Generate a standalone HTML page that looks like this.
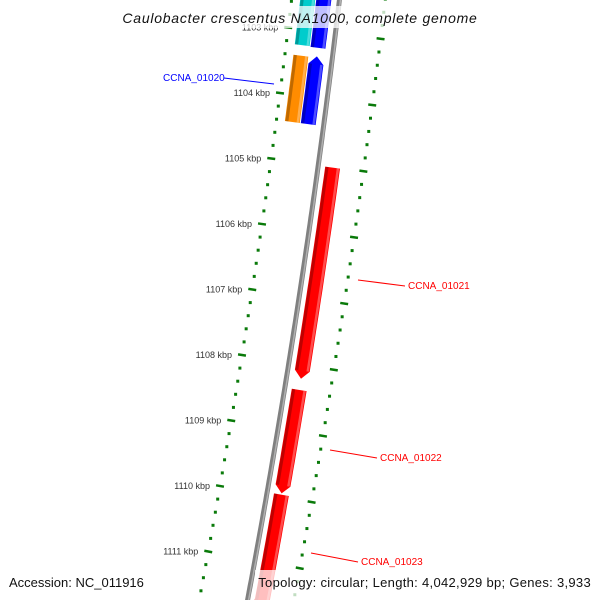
<!DOCTYPE html>
<html><head><meta charset="utf-8"><style>html,body{margin:0;background:#fff;overflow:hidden;width:600px;height:600px}svg{display:block;overflow:hidden}</style></head>
<body>
<svg id="c" width="600" height="600" viewBox="0 0 600 600" xmlns="http://www.w3.org/2000/svg" font-family="Liberation Sans, sans-serif"></svg>
<script>
const tickKbp=[1103,1104,1105,1106,1107,1108,1109,1110,1111];
const geneNames=["CCNA_01019a","CCNA_01019b","CCNA_01020o","CCNA_01020","CCNA_01021","CCNA_01022","CCNA_01023"];
const geneStart=[1102.5,1102.5,1103.40,1103.38,1105.01,1108.38,1109.97];
const geneEnd=[1103.24,1103.25,1104.41,1104.41,1108.21,1109.95,1111.75];
const geneTrack=[16,32,16,32,62,62,62];
const geneColor=["#00cccc","#0000ff","#ff8c00","#0000ff","#ff0000","#ff0000","#ff0000"];
const geneArrow=[0,0,0,-1,1,1,0];
const NS="http://www.w3.org/2000/svg";
const svg=document.getElementById('c');
function el(t,a,p){const e=document.createElementNS(NS,t);for(const k in a)e.setAttribute(k,a[k]);(p||svg).appendChild(e);return e;}
function xi(k){const d=k-1104;return 280-8.5*d-0.25*d*d;}
function yi(k){return 93+(k-1104)*65.5;}
function pt(k,r){const d=k-1104;const dx=-(8.5+0.5*d),dy=65.5;const L=Math.hypot(dx,dy);const nx=dy/L,ny=-dx/L;return [xi(k)+r*nx,yi(k)+r*ny];}
function poly(pts){return pts.map(p=>p[0].toFixed(1)+','+p[1].toFixed(1)).join(' ');}
// backbone
{const a=[],b=[];for(let k=1102.4;k<=1111.9;k+=0.1){a.push(pt(k,45));b.push(pt(k,50));}
const bb=el('polygon',{points:poly(a.concat(b.reverse())),fill:'#808080'});

const a2=[];for(let k=1102.4;k<=1111.9;k+=0.1)a2.push(pt(k,48.5));
el('polyline',{points:poly(a2),fill:'none',stroke:'#b0b0b0','stroke-width':1.5});}
// rings
[0,93].forEach((r,ri)=>{const g=el('g',{});
for(let i=0;i<=48;i++){const k=1102.4+i*0.2;const major=Math.abs(k-Math.round(k))<0.01;
if(major){const p=pt(k,r-4),q=pt(k,r+4);el('line',{x1:p[0],y1:p[1],x2:q[0],y2:q[1],stroke:'#0a7a0a','stroke-width':2.5},g);}
else{const p=pt(k,r);el('rect',{x:p[0]-1.5,y:p[1]-1.5,width:3,height:3,fill:'#0a7a0a'},g);}}});
// tick labels
tickKbp.forEach(k=>{const p=pt(k,0);const t=el('text',{x:p[0]-10,y:p[1]+3,'font-size':9,'text-anchor':'end',fill:'#333'});t.textContent=k+' kbp';
});
// genes
geneNames.forEach((n,i)=>{const r=geneTrack[i],w=7.5;let s=geneStart[i],e=geneEnd[i];const L=[],R=[];
const ah=0.12;let s2=s,e2=e;if(geneArrow[i]<0)s2=s+ah;if(geneArrow[i]>0)e2=e-ah;
for(let k=s2;k<=e2+1e-6;k+=(e2-s2)/20){L.push(pt(k,r-w));R.push(pt(k,r+w));}
let pts=L.slice();if(geneArrow[i]>0)pts.push(pt(e,r));pts=pts.concat(R.reverse());if(geneArrow[i]<0)pts.push(pt(s,r));
const g=el('polygon',{points:poly(pts),fill:geneColor[i]});
const sh=[];for(let k=s2;k<=e2+1e-6;k+=(e2-s2)/10)sh.push(pt(k,r-w+2));
el('polyline',{points:poly(sh),fill:'none',stroke:'rgba(0,0,0,0.25)','stroke-width':3});
const hl=[];for(let k=s2;k<=e2+1e-6;k+=(e2-s2)/10)hl.push(pt(k,r+w-2));
el('polyline',{points:poly(hl),fill:'none',stroke:'rgba(255,255,255,0.3)','stroke-width':2.5});});
// labels
[["CCNA_01020",163,81,224,78,274,84,"#0000ff"],["CCNA_01021",408,289,405,286,358,280,"#ff0000"],["CCNA_01022",380,461,377,458,330,450,"#ff0000"],["CCNA_01023",361,565,358,562,311,553,"#ff0000"]].forEach(d=>{
const l=el('line',{x1:d[3],y1:d[4],x2:d[5],y2:d[6],stroke:d[7],'stroke-width':1});
const t=el('text',{x:d[1],y:d[2],'font-size':10,fill:d[7]});t.textContent=d[0];});
// title and footer
el('rect',{x:120,y:6,width:360,height:22,fill:'rgba(255,255,255,0.75)'});
const ti=el('text',{x:300,y:23,'font-size':14,'font-style':'italic','text-anchor':'middle','letter-spacing':'0.75',fill:'#111'});ti.textContent='Caulobacter crescentus NA1000, complete genome';

el('rect',{x:255,y:570,width:340,height:30,fill:'rgba(255,255,255,0.75)'});
el('rect',{x:5,y:570,width:145,height:30,fill:'rgba(255,255,255,0.75)'});
const a=el('text',{x:9,y:587,'font-size':13,fill:'#111'});a.textContent='Accession: NC_011916';
const tp=el('text',{x:591,y:587,'font-size':13,'text-anchor':'end','letter-spacing':'0.3',fill:'#111'});tp.textContent='Topology: circular; Length: 4,042,929 bp; Genes: 3,933';
</script>
</body></html>
